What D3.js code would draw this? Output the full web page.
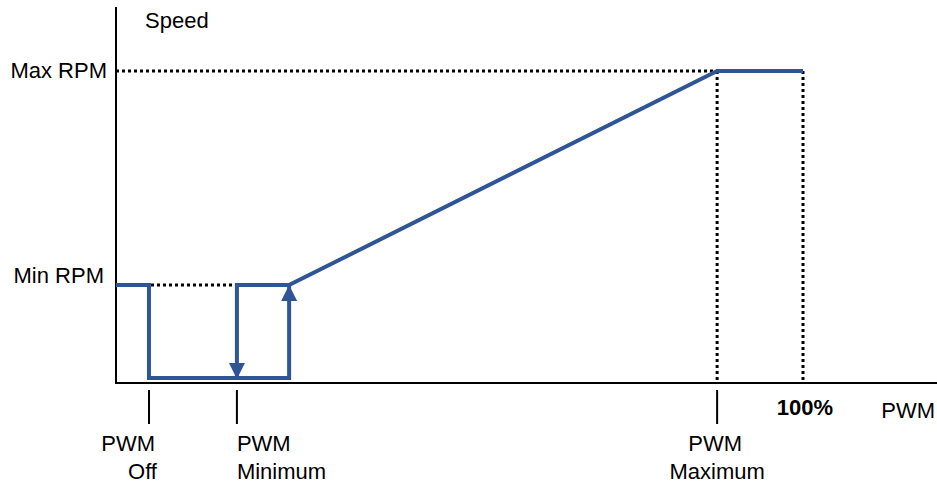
<!DOCTYPE html>
<html>
<head>
<meta charset="utf-8">
<script src="https://cdn.jsdelivr.net/npm/d3@7"></script>
<style>
html,body{margin:0;padding:0;background:#fff;}
svg{display:block;}
text{font-family:"Liberation Sans",Arial,sans-serif;font-size:22px;fill:#000;}
</style>
</head>
<body>
<svg id="chart" width="937" height="484"></svg>
<script>
// PWM duty (%) and speed (% of Max RPM)
const pwmOff = 4.8;
const pwmMin = 17.6;
const pwmStart = 25.2;
const pwmMax = 87.5;
const pwmFull = 100;
const minRpm = 31.4;
const maxRpm = 100;
const floorSpeed = 1.6;

// main speed curve (turn-on path)
const curveX = [0, pwmOff, pwmOff, pwmStart, pwmStart, pwmMax, pwmFull];
const curveY = [minRpm, minRpm, floorSpeed, floorSpeed, minRpm, maxRpm, maxRpm];
// hysteresis (turn-off path)
const hystX = [pwmStart, pwmMin, pwmMin];
const hystY = [minRpm, minRpm, floorSpeed];

const xTicks = [pwmOff, pwmMin, pwmMax];
const xTickLabels = [["PWM", "Off"], ["PWM", "Minimum"], ["PWM", "Maximum"]];
const yLabels = ["Max RPM", "Min RPM"];

const blue = "#2F5597";
const svg = d3.select("#chart");
const x = d3.scaleLinear().domain([0, 100]).range([116, 803]);
const y = d3.scaleLinear().domain([0, 100]).range([383, 71]);
const xEnd = 937, yTop = 7;

// dotted guides
const dotted = (x1, y1, x2, y2) => svg.append("line")
  .attr("x1", x1).attr("y1", y1).attr("x2", x2).attr("y2", y2)
  .attr("stroke", "#000").attr("stroke-width", 3).attr("stroke-dasharray", "3,3");
dotted(x(0), y(maxRpm), x(pwmMax), y(maxRpm));
dotted(x(pwmOff) + 2, y(minRpm), x(pwmMin), y(minRpm));
dotted(x(pwmMax), y(maxRpm), x(pwmMax), y(0));
dotted(x(pwmFull), y(maxRpm), x(pwmFull), y(0));

// axes
svg.append("line").attr("x1", x(0)).attr("y1", yTop).attr("x2", x(0)).attr("y2", y(0) + 1)
  .attr("stroke", "#000").attr("stroke-width", 2);
svg.append("line").attr("x1", x(0)).attr("y1", y(0)).attr("x2", xEnd).attr("y2", y(0))
  .attr("stroke", "#000").attr("stroke-width", 2);

// curves
const line = d3.line().x(d => x(d[0])).y(d => y(d[1]));
svg.append("path").datum(curveX.map((v, i) => [v, curveY[i]]))
  .attr("d", line).attr("fill", "none").attr("stroke", blue)
  .attr("stroke-width", 4).attr("stroke-linejoin", "miter");
svg.append("path").datum(hystX.map((v, i) => [v, hystY[i]]))
  .attr("d", line).attr("fill", "none").attr("stroke", blue)
  .attr("stroke-width", 4).attr("stroke-linejoin", "miter");

// arrows
const tri = (cx, tipY, dir) => {
  const h = 16, w = 8;
  const by = tipY - dir * h;
  return `M${cx},${tipY}L${cx - w},${by}L${cx + w},${by}Z`;
};
svg.append("path").attr("d", tri(x(pwmMin), y(floorSpeed) + 1, 1)).attr("fill", blue);
svg.append("path").attr("d", tri(x(pwmStart), y(minRpm), -1)).attr("fill", blue);

// tick marks
svg.selectAll(".tk").data(xTicks).enter().append("line")
  .attr("x1", d => x(d)).attr("x2", d => x(d))
  .attr("y1", 390).attr("y2", 424)
  .attr("stroke", "#000").attr("stroke-width", 2);

// tick labels
const lblPos = [
  {anchor: "end", dx: [6, 8]},
  {anchor: "start", dx: [0, 0]},
  {anchor: "middle", dx: [-2, 0]}
];
xTicks.forEach((t, i) => {
  const p = lblPos[i];
  xTickLabels[i].forEach((s, j) => {
    svg.append("text").attr("x", x(t) + p.dx[j]).attr("y", 451 + j * 28)
      .attr("text-anchor", p.anchor).text(s);
  });
});

// y labels
svg.append("text").attr("x", 107).attr("y", y(maxRpm) + 7).attr("text-anchor", "end").text(yLabels[0]);
svg.append("text").attr("x", 104).attr("y", y(minRpm) - 2).attr("text-anchor", "end").text(yLabels[1]);

// axis titles
svg.append("text").attr("x", 145).attr("y", 28).text("Speed");
svg.append("text").attr("x", 935).attr("y", 418).attr("text-anchor", "end").text("PWM");
svg.append("text").attr("x", x(pwmFull) + 2).attr("y", 415).attr("text-anchor", "middle")
  .style("font-weight", "bold").text("100%");
</script>
</body>
</html>
